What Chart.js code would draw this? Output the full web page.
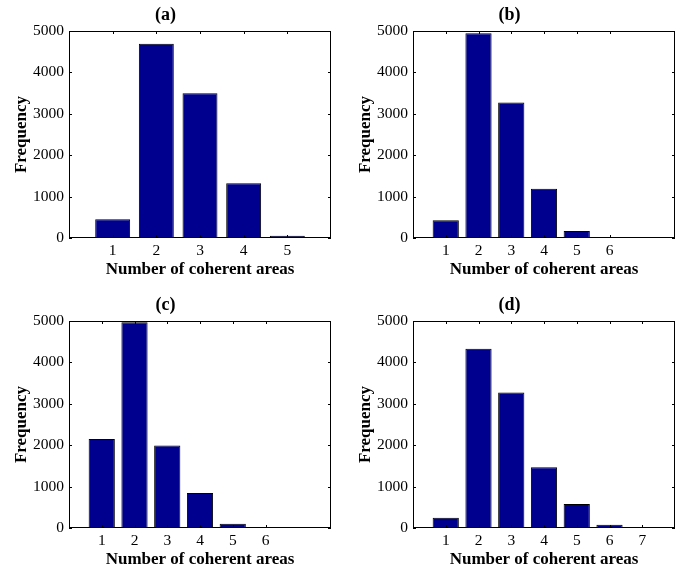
<!DOCTYPE html>
<html>
<head>
<meta charset="utf-8">
<script src="https://cdn.jsdelivr.net/npm/chart.js@4.4.1/dist/chart.umd.min.js"></script>
<style>
  html, body { margin: 0; padding: 0; background: #fff; overflow: hidden; }
  .panel { position: absolute; width: 344px; height: 287px; }
</style>
</head>
<body>
<div class="panel" style="left:0;top:0"><canvas id="chartA"></canvas></div>
<div class="panel" style="left:344px;top:0"><canvas id="chartB"></canvas></div>
<div class="panel" style="left:0;top:290px"><canvas id="chartC"></canvas></div>
<div class="panel" style="left:344px;top:290px"><canvas id="chartD"></canvas></div>
<script>
// data
var binsA = [1, 2, 3, 4, 5];
var freqA = [450, 4690, 3495, 1320, 55];
var binsB = [1, 2, 3, 4, 5, 6];
var freqB = [430, 4945, 3275, 1190, 170, 10];
var binsC = [1, 2, 3, 4, 5, 6];
var freqC = [2150, 4970, 1995, 845, 100, 5];
var binsD = [1, 2, 3, 4, 5, 6, 7];
var freqD = [250, 4330, 3275, 1465, 580, 80, 5];
var yTicks = [0, 1000, 2000, 3000, 4000, 5000];

var font = 'Liberation Serif, Times New Roman, serif';
var barColor = '#00008F';

// box + inward ticks like matlab
var boxPlugin = {
	id: 'box',
	afterDraw: function(chart) {
		var ctx = chart.ctx, a = chart.chartArea;
		var xs = chart.scales.x, ys = chart.scales.y;
		ctx.save();
		ctx.strokeStyle = '#000';
		ctx.lineWidth = 1;
		ctx.strokeRect(Math.round(a.left) + 0.5, Math.round(a.top) + 0.5,
			Math.round(a.right - a.left) - 1, Math.round(a.bottom - a.top) - 1);
		ctx.beginPath();
		xs.ticks.forEach(function(t) {
			var px = Math.round(xs.getPixelForValue(t.value)) + 0.5;
			ctx.moveTo(px, a.bottom); ctx.lineTo(px, a.bottom - 3);
			ctx.moveTo(px, a.top); ctx.lineTo(px, a.top + 3);
		});
		ys.ticks.forEach(function(t) {
			var py = Math.round(ys.getPixelForValue(t.value)) + 0.5;
			ctx.moveTo(a.left, py); ctx.lineTo(a.left + 3, py);
			ctx.moveTo(a.right, py); ctx.lineTo(a.right - 3, py);
		});
		ctx.stroke();
		ctx.restore();
	}
};

function makeChart(id, title, bins, freq, xMax) {
	var points = [];
	for (var i in bins) {
		points.push({x: bins[i], y: freq[i]});
	}
	return new Chart(document.getElementById(id), {
		type: 'bar',
		data: {
			datasets: [{
				data: points,
				backgroundColor: barColor,
				borderColor: '#000',
				borderWidth: 1,
				barPercentage: 0.8,
				categoryPercentage: 1
			}]
		},
		options: {
			responsive: false,
			animation: false,
			layout: { padding: { left: 0, right: 13, top: 0, bottom: 0 } },
			plugins: {
				legend: { display: false },
				tooltip: { enabled: false },
				title: {
					display: true,
					text: title,
					color: '#000',
					font: { family: font, size: 18, weight: 'bold' },
					padding: { top: 5, bottom: 4.4 }
				}
			},
			scales: {
				x: {
					type: 'linear',
					offset: false,
					min: 0,
					max: xMax,
					grid: { display: false, drawTicks: false },
					border: { display: false },
					afterBuildTicks: function(scale) {
						scale.ticks = bins.map(function(b) { return {value: b}; });
					},
					afterFit: function(scale) { scale.height = 49; },
					ticks: {
						color: '#000',
						padding: 4,
						font: { family: font, size: 15.5 },
						callback: function(v) { return v; }
					},
					title: {
						display: true,
						text: 'Number of coherent areas',
						color: '#000',
						font: { family: font, size: 17, weight: 'bold' },
						padding: { top: 0, bottom: 7.5 }
					}
				},
				y: {
					min: 0,
					max: 5000,
					grid: { display: false, drawTicks: false },
					border: { display: false },
					afterBuildTicks: function(scale) {
						scale.ticks = yTicks.map(function(v) { return {value: v}; });
					},
					afterFit: function(scale) { scale.width = 69; },
					ticks: {
						color: '#000',
						padding: 5,
						font: { family: font, size: 15.5 },
						callback: function(v) { return v; }
					},
					title: {
						display: true,
						text: 'Frequency',
						color: '#000',
						font: { family: font, size: 17, weight: 'bold' },
						padding: { top: 11.5, bottom: 0 }
					}
				}
			}
		},
		plugins: [boxPlugin]
	});
}

function sizeCanvas(id) {
	var c = document.getElementById(id);
	c.width = 344; c.height = 287;
	c.style.width = '344px'; c.style.height = '287px';
}
['chartA', 'chartB', 'chartC', 'chartD'].forEach(sizeCanvas);

makeChart('chartA', '(a)', binsA, freqA, 6);
makeChart('chartB', '(b)', binsB, freqB, 8);
makeChart('chartC', '(c)', binsC, freqC, 8);
makeChart('chartD', '(d)', binsD, freqD, 8);
</script>
</body>
</html>
